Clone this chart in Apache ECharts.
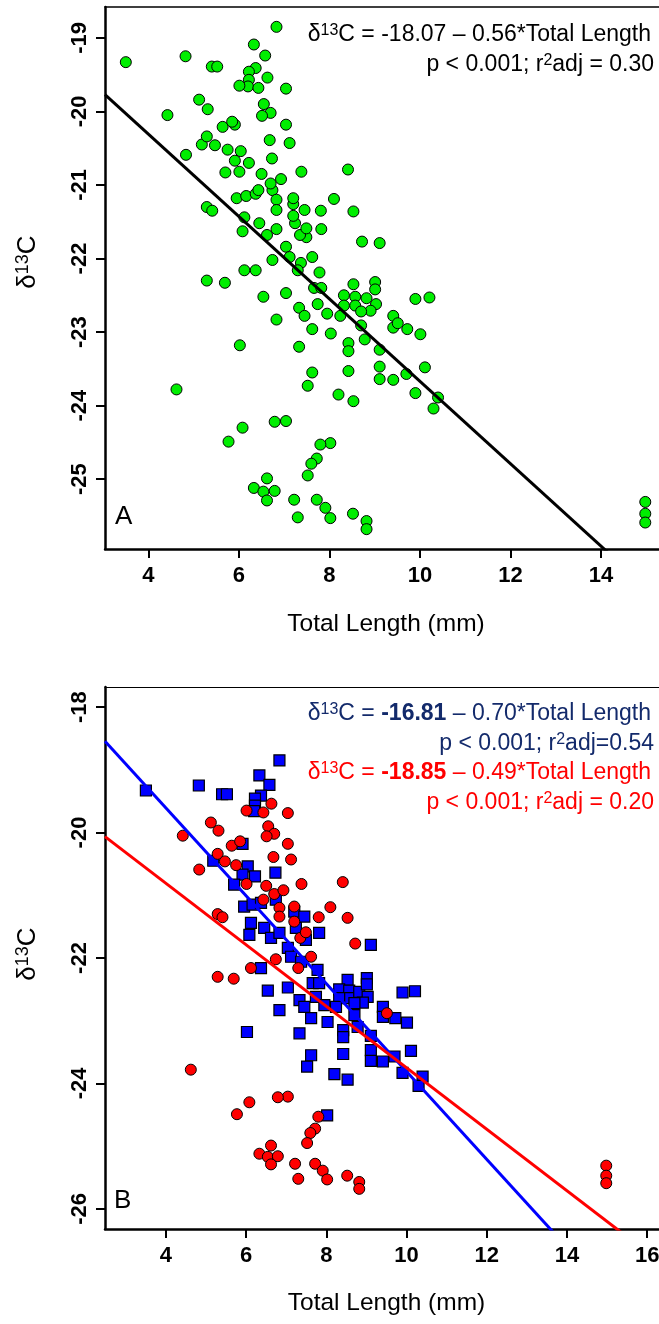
<!DOCTYPE html>
<html>
<head>
<meta charset="utf-8">
<script src="https://cdn.jsdelivr.net/npm/echarts@6/dist/echarts.min.js"></script>
<style>
html,body{margin:0;padding:0;background:#fff;overflow:hidden;}
#chart{width:668px;height:1324px;}
</style>
</head>
<body>
<div id="chart"></div>
<script>
// ---------- data (Total Length mm, δ13C) ----------
const bluePoints = [
  [3.50,-19.33],[4.82,-19.25],[5.40,-19.39],[5.52,-19.39],[6.33,-19.09],[6.58,-19.24],
  [6.37,-19.41],[6.22,-19.46],[6.22,-19.57],[6.20,-19.66],[6.83,-18.85],[5.18,-20.45],
  [5.91,-20.18],[6.04,-20.54],[5.91,-20.67],[6.22,-20.70],[6.73,-20.64],[5.70,-20.83],
  [5.95,-21.18],[6.16,-21.15],[6.37,-21.12],[6.12,-21.44],[6.08,-21.63],[6.45,-21.52],
  [6.62,-21.68],[6.83,-21.60],[7.04,-21.84],[6.74,-21.07],[7.20,-21.26],[7.24,-21.52],
  [7.12,-21.98],[7.37,-22.06],[7.45,-21.34],[7.82,-21.60],[7.49,-21.71],[7.78,-22.19],
  [6.37,-22.16],[7.66,-22.40],[7.82,-22.40],[7.33,-22.67],[7.45,-22.78],[7.74,-22.62],
  [7.95,-22.75],[7.62,-22.96],[8.03,-23.02],[7.33,-23.20],[7.62,-23.55],[7.52,-23.73],
  [8.02,-24.51],[8.53,-22.35],[8.32,-22.50],[8.57,-22.52],[8.57,-22.64],[8.32,-22.64],
  [8.82,-22.54],[9.01,-22.32],[9.01,-22.42],[9.03,-22.62],[8.91,-22.71],[8.70,-22.72],
  [8.24,-22.78],[8.70,-22.91],[8.42,-23.15],[8.42,-23.26],[8.42,-23.53],[8.20,-23.85],
  [8.53,-23.94],[9.41,-22.78],[9.41,-22.94],[9.72,-22.96],[10.01,-23.03],[9.90,-22.55],
  [10.21,-22.53],[8.78,-23.10],[9.11,-23.24],[9.11,-23.47],[9.11,-23.64],[9.41,-23.65],
  [9.70,-23.57],[9.90,-23.83],[10.11,-23.48],[10.40,-23.89],[10.30,-24.04],[6.54,-22.52],
  [6.83,-22.83],[6.02,-23.18],[7.04,-22.47],[9.11,-21.79]
];
const redPoints = [
  [4.42,-20.05],[5.12,-19.84],[5.31,-19.97],[4.83,-20.59],[5.29,-20.34],[5.47,-20.46],
  [5.64,-20.21],[5.85,-20.14],[5.75,-20.52],[6.01,-19.65],[6.43,-19.68],[6.63,-19.54],
  [7.04,-19.69],[6.55,-19.90],[6.70,-20.02],[6.51,-20.06],[7.04,-20.18],[6.68,-20.39],
  [7.12,-20.43],[6.01,-20.82],[6.50,-20.85],[6.70,-20.98],[6.93,-20.92],[6.43,-21.07],
  [7.38,-20.82],[6.83,-21.20],[7.20,-21.18],[6.83,-21.34],[7.20,-21.42],[5.29,-21.30],
  [5.41,-21.35],[6.74,-22.02],[7.35,-21.68],[8.41,-20.79],[8.10,-21.19],[7.81,-21.35],
  [8.53,-21.36],[7.49,-21.59],[8.72,-21.77],[7.62,-21.98],[7.30,-22.16],[9.51,-22.88],
  [7.80,-24.53],[7.72,-24.72],[7.60,-24.79],[7.52,-24.95],[7.04,-24.21],[7.22,-25.28],
  [7.30,-25.52],[7.72,-25.28],[7.91,-25.39],[8.02,-25.53],[8.52,-25.47],[8.82,-25.57],
  [8.82,-25.68],[5.29,-22.30],[5.69,-22.33],[6.12,-22.16],[4.62,-23.78],[6.08,-24.30],
  [5.77,-24.49],[6.79,-24.22],[6.62,-24.99],[6.33,-25.12],[6.54,-25.17],[6.79,-25.16],
  [6.62,-25.29],[14.98,-25.31],[14.98,-25.47],[14.98,-25.59]
];
const allPoints = bluePoints.concat(redPoints);

// regression coefficients [intercept, slope]
const coefAll = [-18.07, -0.56];
const coefBlue = [-16.81, -0.70];
const coefRed = [-18.85, -0.49];

// axis ranges and ticks
const xRangeA = [3.04, 15.46];
const yRangeA = [-25.95, -18.58];
const xRangeB = [2.48, 16.52];
const yRangeB = [-26.32, -17.68];
const xTicksA = [4, 6, 8, 10, 12, 14];
const yTicksA = [-19, -20, -21, -22, -23, -24, -25];
const xTicksB = [4, 6, 8, 10, 12, 14, 16];
const yTicksB = [-18, -20, -22, -24, -26];

// annotation texts
const eqA = ['-18.07 – 0.56*Total Length', '0.30'];
const eqBlue = ['-16.81', ' – 0.70*Total Length', '0.54'];
const eqRed = ['-18.85', ' – 0.49*Total Length', '0.20'];

// ---------- chart ----------
const FONT = '"Liberation Sans", Arial, Helvetica, sans-serif';
function regLine(coef, range) {
  return [[range[0], coef[0] + coef[1] * range[0]], [range[1], coef[0] + coef[1] * range[1]]];
}
function xAxisCfg(gi, range, ticks, gap) {
  return {
    gridIndex: gi, type: 'value', min: range[0], max: range[1], position: 'bottom',
    axisLine: { show: true, onZero: false, lineStyle: { color: '#000', width: 2.5 } },
    axisTick: { show: true, customValues: ticks, length: 9, lineStyle: { color: '#000', width: 2 } },
    axisLabel: { customValues: ticks, color: '#000', fontSize: 22, fontWeight: 'bold', fontFamily: FONT, margin: 16 },
    splitLine: { show: false },
    name: 'Total Length (mm)', nameLocation: 'middle', nameGap: gap,
    nameTextStyle: { color: '#000', fontSize: 24.5, fontFamily: FONT }
  };
}
function topBorder(gi, range, w) {
  return {
    gridIndex: gi, type: 'value', min: range[0], max: range[1], position: 'top',
    axisLine: { show: true, onZero: false, lineStyle: { color: '#000', width: w } },
    axisTick: { show: false }, axisLabel: { show: false }, splitLine: { show: false }
  };
}
function yAxisCfg(gi, range, ticks) {
  return {
    gridIndex: gi, type: 'value', min: range[0], max: range[1],
    axisLine: { show: true, onZero: false, lineStyle: { color: '#000', width: 2.5 } },
    axisTick: { show: true, customValues: ticks, length: 9, lineStyle: { color: '#000', width: 2 } },
    axisLabel: { customValues: ticks, rotate: 90, color: '#000', fontSize: 22, fontWeight: 'bold', fontFamily: FONT, margin: 14 },
    splitLine: { show: false }
  };
}
function richStyles(color, size) {
  return {
    n: { fill: color, fontSize: size, lineHeight: size + 2, fontFamily: FONT },
    b: { fill: color, fontSize: size, lineHeight: size + 2, fontFamily: FONT, fontWeight: 'bold' },
    s: { fill: color, fontSize: Math.round(size * 0.68), lineHeight: size + 2, fontFamily: FONT, verticalAlign: 'top' }
  };
}
function richText(x, y, text, color, size, align, extra) {
  return Object.assign({
    type: 'text', x: x, y: y, z: 100,
    style: { text: text, textAlign: align, textVerticalAlign: 'middle', rich: richStyles(color, size) }
  }, extra || {});
}
function eqLine1(x, y, parts, color, boldIntercept) {
  if (boldIntercept) {
    return richText(x, y, '{n|δ}{s|13}{n|C = }{b|' + parts[0] + '}{n|' + parts[1] + '}', color, 23, 'right');
  }
  return richText(x, y, '{n|δ}{s|13}{n|C = ' + parts[0] + '}', color, 23, 'right');
}
function eqLine2(x, y, r2, color, spaced) {
  const eq = spaced ? ' = ' : '=';
  return richText(x, y, '{n|p < 0.001; r}{s|2}{n|adj' + eq + r2 + '}', color, 23, 'right');
}

const navy = '#132a6b';
const chart = echarts.init(document.getElementById('chart'), null, { renderer: 'canvas' });
chart.setOption({
  animation: false,
  backgroundColor: '#ffffff',
  grid: [
    { left: 105, top: 7, right: 1, height: 542, show: false },
    { left: 105, top: 687, right: 0, height: 542, show: false }
  ],
  xAxis: [
    xAxisCfg(0, xRangeA, xTicksA, 63), xAxisCfg(1, xRangeB, xTicksB, 62),
    topBorder(0, xRangeA, 1.6), topBorder(1, xRangeB, 1.2)
  ],
  yAxis: [yAxisCfg(0, yRangeA, yTicksA), yAxisCfg(1, yRangeB, yTicksB)],
  series: [
    { type: 'scatter', xAxisIndex: 0, yAxisIndex: 0, data: allPoints, symbol: 'circle', symbolSize: 11,
      itemStyle: { color: '#00ee00', borderColor: '#000', borderWidth: 1, opacity: 1 }, z: 2 },
    { type: 'line', xAxisIndex: 0, yAxisIndex: 0, data: regLine(coefAll, xRangeA), symbol: 'none', clip: true,
      lineStyle: { color: '#000', width: 3 }, z: 3 },
    { type: 'scatter', xAxisIndex: 1, yAxisIndex: 1, data: bluePoints, symbol: 'rect', symbolSize: 11,
      itemStyle: { color: '#0000ff', borderColor: '#000', borderWidth: 1.2, opacity: 1 }, z: 2 },
    { type: 'scatter', xAxisIndex: 1, yAxisIndex: 1, data: redPoints, symbol: 'circle', symbolSize: 11,
      itemStyle: { color: '#ff0000', borderColor: '#000', borderWidth: 1, opacity: 1 }, z: 2 },
    { type: 'line', xAxisIndex: 1, yAxisIndex: 1, data: regLine(coefBlue, xRangeB), symbol: 'none', clip: true,
      lineStyle: { color: '#0000ff', width: 3 }, z: 3 },
    { type: 'line', xAxisIndex: 1, yAxisIndex: 1, data: regLine(coefRed, xRangeB), symbol: 'none', clip: true,
      lineStyle: { color: '#ff0000', width: 3 }, z: 3 }
  ],
  graphic: [
    eqLine1(651, 35, eqA, '#000', false),
    eqLine2(654, 65, eqA[1], '#000', true),
    eqLine1(651, 714, eqBlue, navy, true),
    eqLine2(654, 744, eqBlue[2], navy, false),
    eqLine1(651, 773, eqRed, '#ff0000', true),
    eqLine2(654, 803, eqRed[2], '#ff0000', true),
    richText(115, 517, '{n|A}', '#000', 26, 'left'),
    richText(114, 1201, '{n|B}', '#000', 26, 'left'),
    richText(28, 262, '{n|δ}{s|13}{n|C}', '#000', 26, 'center', { rotation: Math.PI / 2 }),
    richText(28, 954, '{n|δ}{s|13}{n|C}', '#000', 26, 'center', { rotation: Math.PI / 2 })
  ]
});
</script>
</body>
</html>
